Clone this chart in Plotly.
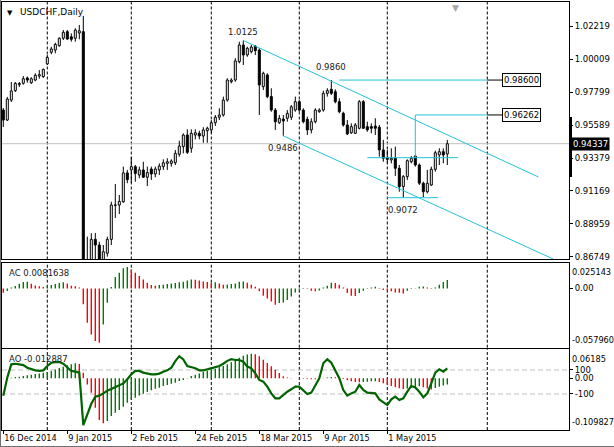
import plotly.graph_objects as go

FONT = "DejaVu Sans"

# daily USDCHF bars, bar 0 = 16 Dec 2014
opens = [0.9659, 0.9592, 0.9726, 0.9789, 0.9829, 0.9838, 0.9874, 0.9842, 0.9860, 0.9887,
         0.9883, 0.9968, 1.0046, 1.0061, 1.0090, 1.0140, 1.0184, 1.0150, 1.0140, 1.0175,
         1.0184, 0.8590, 0.8620, 0.8793, 0.8755, 0.8640, 0.8700, 0.8793, 0.9020, 0.9023,
         0.9045, 0.9238, 0.9258, 0.9280, 0.9224, 0.9258, 0.9209, 0.9264, 0.9231, 0.9258,
         0.9280, 0.9302, 0.9302, 0.9306, 0.9363, 0.9414, 0.9492, 0.9403, 0.9492, 0.9503,
         0.9485, 0.9521, 0.9526, 0.9574, 0.9611, 0.9626, 0.9726, 0.9849, 0.9860, 0.9983,
         1.0095, 1.0028, 1.0050, 1.0088, 1.0061, 0.9816, 0.9894, 0.9749, 0.9659, 0.9574,
         0.9599, 0.9604, 0.9611, 0.9659, 0.9715, 0.9659, 0.9597, 0.9526, 0.9581, 0.9648,
         0.9659, 0.9771, 0.9798, 0.9782, 0.9715, 0.9637, 0.9559, 0.9507, 0.9503, 0.9537,
         0.9715, 0.9548, 0.9548, 0.9552, 0.9544, 0.9392, 0.9340, 0.9325, 0.9336, 0.9269,
         0.9146, 0.9213, 0.9313, 0.9351, 0.9291, 0.9169, 0.9112, 0.9157, 0.9262, 0.9358,
         0.9380, 0.9365]
highs = [0.9673, 0.9747, 0.9847, 0.9847, 0.9847, 0.9887, 0.9883, 0.9879, 0.9905, 0.9927,
         0.9936, 1.0028, 1.0083, 1.0110, 1.0146, 1.0195, 1.0195, 1.0173, 1.0207, 1.0229,
         1.0290, 0.8811, 0.8834, 0.8836, 0.8777, 0.8755, 0.8811, 0.9045, 0.9164, 0.9090,
         0.9280, 0.9258, 0.9345, 0.9291, 0.9280, 0.9313, 0.9280, 0.9280, 0.9280, 0.9302,
         0.9329, 0.9336, 0.9329, 0.9392, 0.9454, 0.9503, 0.9530, 0.9530, 0.9530, 0.9521,
         0.9544, 0.9548, 0.9592, 0.9626, 0.9671, 0.9749, 0.9872, 0.9872, 1.0006, 1.0117,
         1.0125, 1.0083, 1.0095, 1.0095, 1.0073, 0.9916, 0.9905, 0.9805, 0.9673, 0.9626,
         0.9626, 0.9659, 0.9693, 0.9749, 0.9726, 0.9671, 0.9615, 0.9604, 0.9671, 0.9671,
         0.9789, 0.9805, 0.9860, 0.9798, 0.9738, 0.9648, 0.9592, 0.9570, 0.9572, 0.9726,
         0.9726, 0.9581, 0.9570, 0.9604, 0.9559, 0.9459, 0.9392, 0.9403, 0.9414, 0.9291,
         0.9224, 0.9329, 0.9351, 0.9358, 0.9302, 0.9179, 0.9258, 0.9280, 0.9387, 0.9403,
         0.9403, 0.9459]
lows = [0.9546, 0.9586, 0.9713, 0.9780, 0.9813, 0.9829, 0.9842, 0.9834, 0.9852, 0.9869,
        0.9874, 0.9961, 1.0033, 1.0039, 1.0083, 1.0128, 1.0128, 1.0117, 1.0117, 1.0133,
        0.7405, 0.8450, 0.8580, 0.8630, 0.8600, 0.8610, 0.8677, 0.8755, 0.8936, 0.8963,
        0.9037, 0.9169, 0.9171, 0.9179, 0.9202, 0.9204, 0.9150, 0.9191, 0.9209, 0.9224,
        0.9258, 0.9258, 0.9280, 0.9291, 0.9347, 0.9369, 0.9365, 0.9373, 0.9463, 0.9463,
        0.9440, 0.9440, 0.9503, 0.9552, 0.9592, 0.9615, 0.9715, 0.9838, 0.9849, 0.9972,
        0.9961, 1.0016, 1.0039, 1.0028, 0.9626, 0.9793, 0.9738, 0.9648, 0.9526, 0.9566,
        0.9486, 0.9581, 0.9592, 0.9648, 0.9648, 0.9570, 0.9492, 0.9503, 0.9570, 0.9641,
        0.9648, 0.9749, 0.9760, 0.9704, 0.9637, 0.9548, 0.9492, 0.9499, 0.9499, 0.9530,
        0.9532, 0.9514, 0.9503, 0.9492, 0.9347, 0.9313, 0.9302, 0.9302, 0.9217, 0.9112,
        0.9072, 0.9191, 0.9302, 0.9280, 0.9157, 0.9074, 0.9101, 0.9150, 0.9246, 0.9291,
        0.9302, 0.9291]
closes = [0.9592, 0.9733, 0.9787, 0.9838, 0.9837, 0.9869, 0.9860, 0.9869, 0.9892, 0.9896,
          0.9932, 1.0012, 1.0068, 1.0099, 1.0140, 1.0180, 1.0135, 1.0133, 1.0195, 1.0190,
          0.8590, 0.8620, 0.8793, 0.8755, 0.8640, 0.8710, 0.8793, 0.9023, 0.9024, 0.9047,
          0.9238, 0.9193, 0.9280, 0.9235, 0.9258, 0.9209, 0.9240, 0.9231, 0.9264, 0.9284,
          0.9306, 0.9313, 0.9318, 0.9369, 0.9418, 0.9492, 0.9376, 0.9503, 0.9507, 0.9485,
          0.9526, 0.9537, 0.9574, 0.9611, 0.9626, 0.9726, 0.9860, 0.9860, 0.9988, 1.0095,
          1.0028, 1.0073, 1.0081, 1.0057, 0.9827, 0.9905, 0.9749, 0.9659, 0.9581, 0.9604,
          0.9586, 0.9637, 0.9681, 0.9715, 0.9659, 0.9581, 0.9526, 0.9581, 0.9659, 0.9659,
          0.9771, 0.9789, 0.9771, 0.9715, 0.9648, 0.9559, 0.9499, 0.9548, 0.9559, 0.9715,
          0.9537, 0.9526, 0.9537, 0.9537, 0.9392, 0.9336, 0.9329, 0.9336, 0.9269, 0.9146,
          0.9213, 0.9320, 0.9336, 0.9291, 0.9169, 0.9112, 0.9169, 0.9262, 0.9373, 0.9380,
          0.9358, 0.94337]

# Accelerator oscillator
ac_values = [-0.0042, -0.0026, 0.0010, 0.0023, 0.0046, 0.0062, 0.0065, 0.0046, 0.0029, 0.0020,
             0.0013, 0.0020, 0.0033, 0.0042, 0.0052, 0.0059, 0.0049, 0.0026, 0.0020, 0.0010,
             -0.0156, -0.0336, -0.0450, -0.0515, -0.0531, -0.0352, -0.0140, 0.0013, 0.0111, 0.0153,
             0.0196, 0.0209, 0.0186, 0.0153, 0.0121, 0.0088, 0.0055, 0.0033, 0.0026, 0.0033,
             0.0036, 0.0042, 0.0049, 0.0052, 0.0059, 0.0065, 0.0078, 0.0088, 0.0085, 0.0078,
             0.0068, 0.0062, 0.0055, 0.0059, 0.0049, 0.0036, 0.0039, 0.0042, 0.0049, 0.0065,
             0.0068, 0.0055, 0.0036, 0.0016, -0.0029, -0.0072, -0.0098, -0.0127, -0.0160, -0.0143,
             -0.0137, -0.0114, -0.0078, -0.0039, -0.0013, 0.0003, -0.0007, -0.0023, -0.0029, -0.0020,
             0.0010, 0.0026, 0.0055, 0.0052, 0.0036, 0.0010, -0.0046, -0.0072, -0.0075, -0.0046,
             -0.0023, -0.0005, 0.0010, 0.0016, 0.0003, -0.0016, -0.0020, -0.0029, -0.0039, -0.0042,
             -0.0049, -0.0023, 0.0003, -0.0003, 0.0016, 0.0018, 0.0010, 0.0003, 0.0010, 0.0036,
             0.0062, 0.0082]

# Awesome oscillator
ao_values = [-0.0004, 0.0003, 0.0012, 0.0030, 0.0036, 0.0050, 0.0064, 0.0078, 0.0092, 0.0106,
             0.0120, 0.0135, 0.0156, 0.0190, 0.0220, 0.0248, 0.0277, 0.0298, 0.0319, 0.0305,
             0.0120, -0.0128, -0.0305, -0.0624, -0.0886, -0.0957, -0.0908, -0.0800, -0.0730, -0.0674,
             -0.0603, -0.0518, -0.0447, -0.0411, -0.0362, -0.0326, -0.0291, -0.0255, -0.0220, -0.0199,
             -0.0163, -0.0142, -0.0113, -0.0092, -0.0057, -0.0035, 0.0010, 0.0050, 0.0078, 0.0106,
             0.0135, 0.0156, 0.0177, 0.0206, 0.0234, 0.0262, 0.0298, 0.0340, 0.0390, 0.0440,
             0.0480, 0.0505, 0.0525, 0.0515, 0.0468, 0.0397, 0.0326, 0.0255, 0.0184, 0.0113,
             0.0043, 0.0020, 0.0010, 0.0005, -0.0002, -0.0006, -0.0012, -0.0017, -0.0021, -0.0012,
             0.0008, 0.0020, 0.0030, 0.0022, 0.0006, -0.0012, -0.0040, -0.0062, -0.0076, -0.0082,
             -0.0076, -0.0070, -0.0064, -0.0060, -0.0078, -0.0102, -0.0130, -0.0160, -0.0188, -0.0210,
             -0.0228, -0.0218, -0.0202, -0.0184, -0.0168, -0.0190, -0.0218, -0.0238, -0.0206, -0.0176,
             -0.0150, -0.0129]

# CCI drawn in the AO window
cci_values = [-114, 37, 147, 152, 147, 141, 119, 105, 97, 92,
              97, 133, 160, 166, 166, 152, 119, 92, 86, 78,
              -360, -264, -182, -122, -114, -95, -73, -59, -45, -32,
              -12, 23, 64, 92, 92, 78, 70, 64, 64, 70,
              86, 97, 119, 174, 215, 188, 133, 125, 114, 97,
              97, 105, 114, 119, 133, 152, 176, 190, 183, 183,
              169, 128, 114, 72, 17, 3, -39, -95, -136, -136,
              -108, -81, -61, -39, -39, -67, -100, -89, -25, 31,
              156, 189, 161, 100, 31, -67, -114, -95, -81, -25,
              -67, -89, -89, -95, -145, -172, -192, -145, -122, -150,
              -136, -81, -33, -45, -81, -128, -95, -11, 78, 106,
              86, 114]
cci_levels = [100, -100]

date_ticks = [0, 16, 32, 48, 64, 80, 96]
date_labels = ["16 Dec 2014", "9 Jan 2015", "2 Feb 2015", "24 Feb 2015",
               "18 Mar 2015", "9 Apr 2015", "1 May 2015"]
price_ticks = [1.02219, 1.00009, 0.97799, 0.95589, 0.93379, 0.91169, 0.88959, 0.86749]
month_separators = [11, 32, 52, 74, 96, 121]
bid = 0.94337
ac_label = "AC 0.0081638"
ao_label = "AO -0.012887"

# drawn objects: channel, levels and marked extremes
channel_top = ([60, 133.75], [1.0125, 0.9211])
channel_bottom = ([70, 137.5], [0.9486, 0.8661])
level_986 = ([84, 121], [0.9860, 0.9860])
level_9626 = ([103, 103, 121], [0.9340, 0.96262, 0.96262])
neckline = ([91, 113.7], [0.9340, 0.9340])
bottom_line = ([96, 108.7], [0.9072, 0.9072])
point_labels = [("1.0125", 60, 1.0180), ("0.9860", 82, 0.9950),
                ("0.9486", 70, 0.9405), ("0.9072", 100, 0.8990)]

CYAN = "#22C3D6"
GREEN = "#007A00"
RED = "#FF0000"

X_RANGE = [-0.325, 141.425]
D_MAIN = [0.3984, 1.0]
D_AC = [0.1923, 0.3909]
D_AO = [0.0, 0.1886]

fig = go.Figure()

# candles
idx = list(range(len(closes)))
body_top = [max(o, c) for o, c in zip(opens, closes)]
body_bot = [min(o, c) for o, c in zip(opens, closes)]
wx, wy = [], []
for i in idx:
    wx += [i, i, None, i, i, None]
    wy += [highs[i], body_top[i], None, body_bot[i], lows[i], None]
fig.add_trace(go.Scatter(x=wx, y=wy, mode="lines", line=dict(color="black", width=1),
                         xaxis="x", yaxis="y"))
bull = [i for i in idx if closes[i] >= opens[i]]
bear = [i for i in idx if closes[i] < opens[i]]
fig.add_trace(go.Bar(x=bull, y=[closes[i] - opens[i] for i in bull], base=[opens[i] for i in bull],
                     width=0.5, marker=dict(color="white", line=dict(color="black", width=1)),
                     xaxis="x", yaxis="y"))
fig.add_trace(go.Bar(x=bear, y=[opens[i] - closes[i] for i in bear], base=[closes[i] for i in bear],
                     width=0.5, marker=dict(color="black", line=dict(color="black", width=1)),
                     xaxis="x", yaxis="y"))

# channel and levels
for xs, ys in [channel_top, channel_bottom, level_986, level_9626, neckline, bottom_line]:
    fig.add_trace(go.Scatter(x=xs, y=ys, mode="lines", line=dict(color=CYAN, width=1),
                             xaxis="x", yaxis="y"))
# short connectors to the price boxes
for lvl in [0.9860, 0.96262]:
    fig.add_trace(go.Scatter(x=[121, 124.7], y=[lvl, lvl], mode="lines",
                             line=dict(color="black", width=1), xaxis="x", yaxis="y"))


def histogram(values, xa, ya):
    # MT4 colouring: green when the value rises, red when it falls
    seg = {GREEN: ([], []), RED: ([], [])}
    for i, v in enumerate(values):
        col = GREEN if i > 0 and v > values[i - 1] else RED
        seg[col][0].extend([i, i, None])
        seg[col][1].extend([0, v, None])
    for col, (xs, ys) in seg.items():
        fig.add_trace(go.Scatter(x=xs, y=ys, mode="lines", line=dict(color=col, width=1.4),
                                 xaxis=xa, yaxis=ya))


histogram(ac_values, "x2", "y2")
histogram(ao_values, "x3", "y3")
fig.add_trace(go.Scatter(x=idx, y=cci_values, mode="lines", line=dict(color="#006400", width=2.2),
                         xaxis="x3", yaxis="y4"))

shapes = []
for s in month_separators:
    for xr, yr in [("x", "y domain"), ("x2", "y2 domain"), ("x3", "y3 domain")]:
        shapes.append(dict(type="line", xref=xr, yref=yr, x0=s, x1=s, y0=0, y1=1, layer="below",
                           line=dict(color="black", width=1, dash="3px,2px")))
shapes.append(dict(type="line", xref="x domain", yref="y", x0=0, x1=1, y0=bid, y1=bid, layer="below",
                   line=dict(color="#C0C0C0", width=1)))
for lv in cci_levels:
    shapes.append(dict(type="line", xref="x3 domain", yref="y4", x0=0, x1=1, y0=lv, y1=lv, layer="below",
                       line=dict(color="#C0C0C0", width=1, dash="5px,3px")))
shapes.append(dict(type="rect", xref="paper", yref="y", xsizemode="pixel", xanchor=1, x0=0, x1=3,
                   y0=0.9211, y1=0.9613, fillcolor="black", line=dict(width=0)))
# window frame on the left and bottom edges
shapes.append(dict(type="line", xref="paper", yref="paper", x0=-1.5 / 567, x1=-1.5 / 567,
                   y0=-16.5 / 428, y1=430 / 428, line=dict(color="#707070", width=1)))
shapes.append(dict(type="line", xref="paper", yref="paper", x0=-2 / 567, x1=612 / 567,
                   y0=-16.5 / 428, y1=-16.5 / 428, line=dict(color="#707070", width=1)))

txt = dict(family=FONT, size=8.5, color="#202020")
ann = []
ann.append(dict(xref="paper", yref="paper", x=16 / 567, y=1, xanchor="left", yanchor="top", yshift=-3,
                text="USDCHF,Daily", showarrow=False, font=dict(family=FONT, size=9, color="black")))
ann.append(dict(xref="paper", yref="paper", x=8 / 567, y=1, xanchor="center", yanchor="top", yshift=-5,
                text="▼", showarrow=False, font=dict(family=FONT, size=7, color="black")))
ann.append(dict(xref="paper", yref="paper", x=453.5 / 567, y=1, xanchor="center", yanchor="top", yshift=1,
                text="▼", showarrow=False, font=dict(family=FONT, size=9, color="#A8A8A8")))
for t, bx, py in point_labels:
    ann.append(dict(x=bx, y=py, xref="x", yref="y", text=t, showarrow=False, font=txt))
for lvl in [0.9860, 0.96262]:
    ann.append(dict(x=124.7, y=lvl, xref="x", yref="y", xanchor="left", text=f"{lvl:.5f}",
                    showarrow=False, bgcolor="white", bordercolor="black", borderwidth=1, borderpad=1,
                    font=dict(family=FONT, size=8.5, color="black")))
ann.append(dict(xref="paper", yref="y", x=1, y=bid, xanchor="left", xshift=2, text=f"{bid:.5f}",
                showarrow=False, bgcolor="black", borderpad=1,
                font=dict(family=FONT, size=8.5, color="white")))
ann.append(dict(xref="paper", yref="y2 domain", x=5 / 567, y=1, xanchor="left", yanchor="top", yshift=-3,
                text=ac_label, showarrow=False, font=txt))
ann.append(dict(xref="paper", yref="y3 domain", x=5 / 567, y=1, xanchor="left", yanchor="top", yshift=-3,
                text=ao_label, showarrow=False, font=txt))
for yr, yv, anchor, shift, t in [("y2 domain", 1, "top", -2, "0.025143"),
                                 ("y2 domain", 0, "bottom", 1, "-0.057960"),
                                 ("y3 domain", 1, "top", -3, "0.06185"),
                                 ("y3 domain", 0, "bottom", 1, "-0.109827")]:
    ann.append(dict(xref="paper", yref=yr, x=1, y=yv, xanchor="left", yanchor=anchor, xshift=1,
                    yshift=shift, text=t, showarrow=False,
                    font=dict(family=FONT, size=8.2, color="black")))

frame = dict(showline=True, mirror=True, linecolor="black", linewidth=1, showgrid=False,
             zeroline=False, fixedrange=True)
xbase = dict(range=X_RANGE, domain=[0, 1], ticks="", showticklabels=False, **frame)
ybase = dict(side="right", ticks="outside", ticklen=3, tickcolor="black",
             tickfont=dict(family=FONT, size=8.5, color="black"), **frame)

fig.update_layout(
    width=614, height=447,
    margin=dict(l=2, r=45, t=2, b=17),
    paper_bgcolor="white", plot_bgcolor="white",
    showlegend=False, hovermode=False, barmode="overlay",
    xaxis=dict(anchor="y", **xbase),
    xaxis2=dict(anchor="y2", matches="x", **xbase),
    xaxis3=dict(anchor="y3", matches="x", range=X_RANGE, domain=[0, 1], ticks="outside", ticklen=3,
                tickcolor="black", tickvals=date_ticks, ticktext=date_labels,
                ticklabelposition="outside right",
                tickfont=dict(family=FONT, size=8.2, color="black"), **frame),
    yaxis=dict(anchor="x", domain=D_MAIN, range=[0.86581, 1.03828], tickvals=price_ticks,
               ticktext=[f"{p:.5f}" for p in price_ticks], **ybase),
    yaxis2=dict(anchor="x2", domain=D_AC, range=[-0.05796, 0.025143], tickvals=[0], ticktext=["0.00"],
                **ybase),
    yaxis3=dict(anchor="x3", domain=D_AO, range=[-0.109827, 0.06185], tickvals=[0], ticktext=["0.00"],
                **ybase),
    yaxis4=dict(anchor="x3", overlaying="y3", side="right", range=[-400, 272.5], tickvals=cci_levels,
                ticktext=["100", "-100"], ticks="outside", ticklen=3, tickcolor="black",
                tickfont=dict(family=FONT, size=8.5, color="black"), showgrid=False, zeroline=False,
                showline=False, fixedrange=True),
    shapes=shapes,
    annotations=ann,
)

fig.write_html("out.html", config={"displayModeBar": False},
               post_script="document.body.style.margin='0';document.body.style.overflow='hidden';")
